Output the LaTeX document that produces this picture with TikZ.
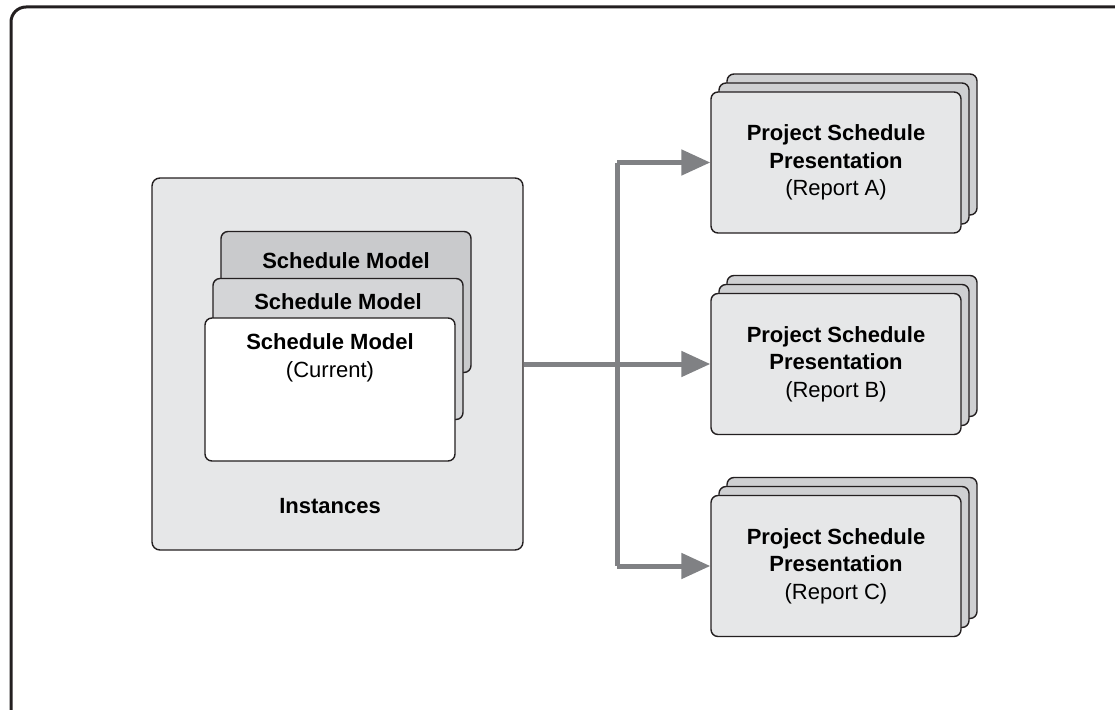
\documentclass[tikz,border=0pt]{standalone}
\usepackage{fontspec}
\setmainfont{Liberation Sans}
\usetikzlibrary{arrows.meta,positioning}

\definecolor{panelgray}{HTML}{E6E7E8}
\definecolor{backgray}{HTML}{CFD0D2}
\definecolor{darkgray}{HTML}{C9CACC}
\definecolor{midgray}{HTML}{D4D5D7}
\definecolor{arrowgray}{HTML}{808184}
\definecolor{edge}{HTML}{231F20}

\begin{document}
\begin{tikzpicture}[x=1pt,y=-1pt,font=\fontsize{22}{27.5}\selectfont,
	card/.style={draw=edge,line width=1.4pt,rounded corners=7pt,minimum width=250pt,minimum height=141pt,inner sep=0pt},
	flow/.style={draw=arrowgray,line width=5pt},
	tip/.style={-{Triangle[length=29pt,width=25pt]},color=arrowgray}]
	\def\dx{8}	%offset of the stacked cards
	\def\dy{9}
	\useasboundingbox (0,0) rectangle (1115,709);
	\draw[edge,line width=3pt,rounded corners=15pt] (11,7) rectangle (1135,730);	%frame

	% instances panel
	\node[draw=edge,line width=1.4pt,fill=panelgray,rounded corners=8pt,minimum width=371pt,minimum height=372pt] (inst) at (337.5,364) {};
	\node (insttxt) at (330,506) {\textbf{Instances}};

	% schedule models, back to front
	\node[card,fill=darkgray] (sm3) at (346,302) {};
	\node[below=18pt of sm3.north] (sm3txt) {\textbf{Schedule Model}};
	\node[card,fill=midgray] (sm2) at (338,349) {};
	\node[below=12pt of sm2.north] (sm2txt) {\textbf{Schedule Model}};
	\node[card,fill=white,minimum height=143pt] (sm1) at (330,389.5) {};
	\node[below=13pt of sm1.north,align=center] (sm1txt) {\textbf{Schedule Model}\\(Current)};

	% reports
	\foreach \r/\y in {A/162.5,B/364,C/566}{
		\node[card,fill=backgray] (rep\r3) at ({836+2*\dx},{\y-2*\dy}) {};
		\node[card,fill=backgray] (rep\r2) at ({836+\dx},{\y-\dy}) {};
		\node[card,fill=panelgray,align=center] (rep\r) at (836,\y) {\textbf{Project Schedule}\\\textbf{Presentation}\\(Report \r)};
	}

	% connectors
	\coordinate (fork) at (617,364);
	\draw[flow] (inst.east |- repB.west) -- (fork);
	\draw[flow] (fork |- repA.west) -- (fork |- repC.west);
	\draw[flow,tip] (fork) -- (repB.west);
	\draw[flow,tip] (fork |- repA.west) -- (repA.west);
	\draw[flow,tip] (fork |- repC.west) -- (repC.west);
\end{tikzpicture}
\end{document}
